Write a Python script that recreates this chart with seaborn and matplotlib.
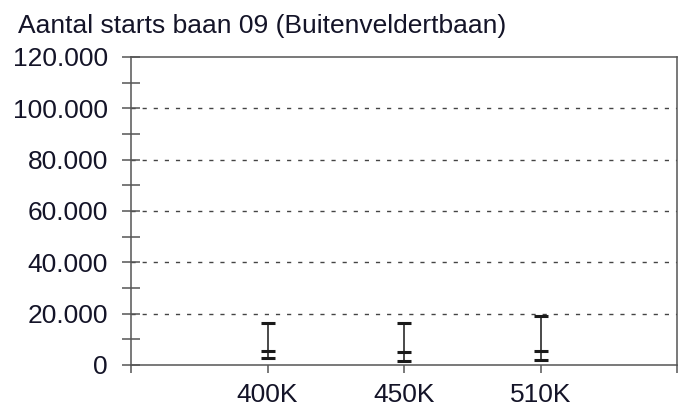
import matplotlib
matplotlib.use("Agg")
import matplotlib.pyplot as plt
from matplotlib.ticker import MultipleLocator, FuncFormatter, FixedLocator
import seaborn as sns
import pandas as pd

categories = ["400K", "450K", "510K"]
low_values = [2600, 1700, 1900]
mid_values = [5600, 4900, 5600]
high_values = [16200, 16200, 19200]
title = "Aantal starts baan 09 (Buitenveldertbaan)"

sns.set_theme(style="white")
plt.rcParams["font.family"] = ["Liberation Sans", "DejaVu Sans"]

rows = []
for i, c in enumerate(categories):
    for kind, v in (("low", low_values[i]), ("mid", mid_values[i]), ("high", high_values[i])):
        rows.append({"cat": c, "pos": i + 1, "kind": kind, "value": v})
df = pd.DataFrame(rows)

fig = plt.figure(figsize=(6.86, 4.07), dpi=100)
ax = fig.add_axes([131 / 686, 42 / 407, 546 / 686, 308 / 407])

line_col = "#3a3a3a"
sns.lineplot(data=df, x="pos", y="value", units="cat", estimator=None, sort=False,
             color=line_col, linewidth=1.3, ax=ax, legend=False)
sns.scatterplot(data=df, x="pos", y="value", marker="_", s=110, linewidth=2.2,
                color="#1a1a1a", ax=ax, legend=False, zorder=5)

ax.set_xlim(0, 4)
ax.set_ylim(0, 120000)
ax.set_xlabel("")
ax.set_ylabel("")

ax.xaxis.set_major_locator(FixedLocator([1, 2, 3]))
ax.set_xticklabels(categories)
ax.xaxis.set_minor_locator(FixedLocator([0, 4]))
ax.yaxis.set_major_locator(MultipleLocator(20000))
ax.yaxis.set_minor_locator(MultipleLocator(10000))
ax.yaxis.set_major_formatter(FuncFormatter(lambda v, p: "0" if v == 0 else f"{int(v):,}".replace(",", ".")))

txt_col = "#141428"
ax.tick_params(axis="x", which="both", direction="out", length=6, width=1.1,
               color="#555555", bottom=True, labelsize=19, labelcolor=txt_col, pad=7)
ax.tick_params(axis="y", which="both", direction="inout", length=13, width=1.1,
               color="#555555", left=True, labelsize=19, labelcolor=txt_col, pad=10)

for sp in ax.spines.values():
    sp.set_color("#555555")
    sp.set_linewidth(1.1)
    sp.set_visible(True)

for yv in [20000, 40000, 60000, 80000, 100000]:
    ax.axhline(yv, color="#444444", linewidth=1.0, linestyle=(0, (3, 5)), zorder=0)

fig.text(18 / 686, 1 - 33 / 407, title, fontsize=19, color=txt_col, ha="left", va="baseline")

fig.savefig("out.png", dpi=100)
